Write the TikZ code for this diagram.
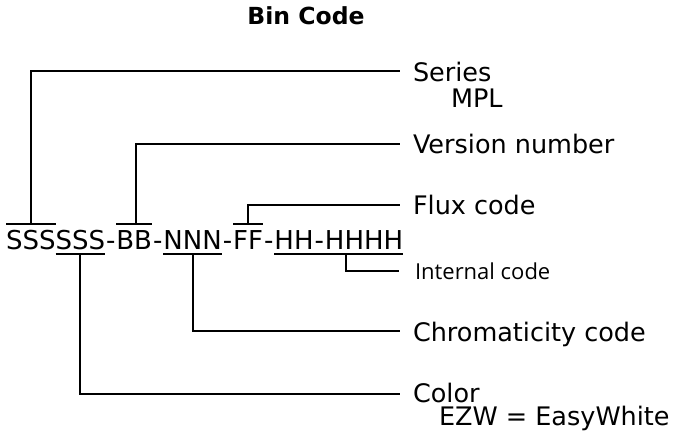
\documentclass[tikz,border=0pt]{standalone}
\usepackage{fontspec}
\setmainfont{DejaVu Sans}
\newfontfamily\smallfont{Open Sans}
\begin{document}
\begin{tikzpicture}[x=1pt,y=-1pt,line width=1.8pt,
  seg/.style={inner sep=0pt,outer sep=0pt,anchor=base west,font=\fontsize{26}{30}\selectfont},
  hyph/.style={seg,inner xsep=1pt},
  lbl/.style={inner sep=0pt,outer sep=0pt,anchor=base west,font=\fontsize{25.5}{30}\selectfont},
  smalllbl/.style={inner sep=0pt,outer sep=0pt,anchor=base west,font=\smallfont\fontsize{22}{26}\selectfont},
  leader/.style={}]
\useasboundingbox (0,0) rectangle (682,439);
\node[font=\bfseries\fontsize{23.5}{28}\selectfont,anchor=base] (title) at (306,24) {Bin Code};
% code string
\node[seg] (s1) at (6,249) {SSS};
\node[seg] (s2) at (s1.base east) {SSS};
\node[hyph] (h1) at (s2.base east) {-};
\node[seg] (bb) at (h1.base east) {BB};
\node[hyph] (h2) at (bb.base east) {-};
\node[seg] (nn) at (h2.base east) {NNN};
\node[hyph] (h3) at (nn.base east) {-};
\node[seg] (ff) at (h3.base east) {FF};
\node[hyph] (h4) at (ff.base east) {-};
\node[seg] (hh) at (h4.base east) {HH\kern1pt-\kern1ptHHHH};
\coordinate (ov) at (0,224);
\coordinate (un) at (0,254);
% labels
\node[lbl] (series) at (413,81) {Series};
\node[lbl] (mpl) at (451,107) {MPL};
\node[lbl] (version) at (413,153) {Version number};
\node[lbl] (flux) at (413,214) {Flux code};
\node[smalllbl] (internal) at (415,279) {Internal code};
\node[lbl] (chroma) at (413,341) {Chromaticity code};
\node[lbl] (color) at (413,402) {Color};
\node[lbl] (ezw) at (439,425) {EZW = EasyWhite};
% leader ends
\coordinate (eseries) at (400,71);
\coordinate (eversion) at (400,144);
\coordinate (eflux) at (400,205);
\coordinate (einternal) at (399,271);
\coordinate (echroma) at (400,331);
\coordinate (ecolor) at (400,394);
% bars
\draw (s1.west |- ov) -- (s1.east |- ov);
\draw (bb.west |- ov) -- (bb.east |- ov);
\draw (ff.west |- ov) -- (ff.east |- ov);
\draw (s2.west |- un) -- (s2.east |- un);
\draw (nn.west |- un) -- (nn.east |- un);
\draw (hh.west |- un) -- (hh.east |- un);
% leaders
\draw[leader] (s1.center |- ov) |- (eseries);
\draw[leader] ([xshift=2pt]bb.center |- ov) |- (eversion);
\draw[leader] (ff.center |- ov) |- (eflux);
\draw[leader] (s2.center |- un) |- (ecolor);
\draw[leader] (nn.center |- un) |- (echroma);
\draw[leader] ([xshift=7pt]hh.center |- un) |- (einternal);
\end{tikzpicture}
\end{document}
